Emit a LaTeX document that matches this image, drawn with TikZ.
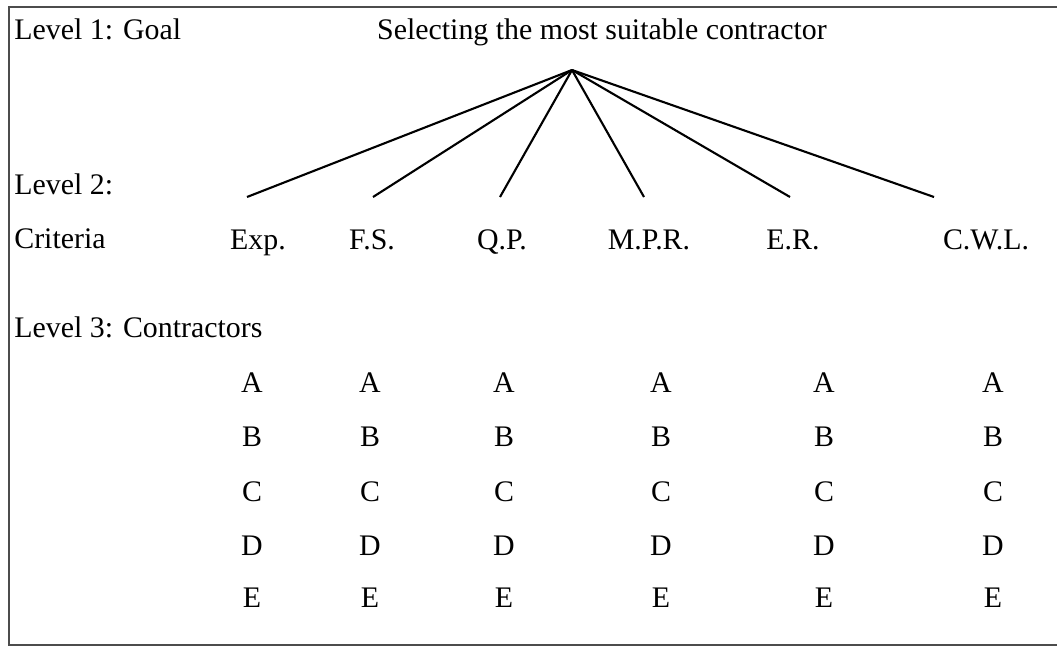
\documentclass[tikz,border=0pt]{standalone}
\usepackage{fontspec}
\setmainfont{Liberation Serif}

\begin{document}
\begin{tikzpicture}[x=0.02cm, y=-0.02cm]
\tikzset{etiq/.style={inner sep=0pt, anchor=base, font=\fontsize{17}{20}\selectfont},
         niveau/.style={etiq, anchor=base west},
         lien/.style={line width=1.2pt}}
\useasboundingbox (0,0) rectangle (1057,646);
\draw[line width=1.1pt, black!70] (1057,7) -- (9,7) -- (9,645) -- (1057,645);
\node[niveau] (L1) at (14,39) {Level 1: Goal};
\node[niveau] (L2) at (14,194) {Level 2:};
\node[niveau] (Cr) at (14,248) {Criteria};
\node[niveau] (L3) at (14,337) {Level 3: Contractors};
\node[etiq] (But) at (602,39) {Selecting the most suitable contractor};
\coordinate (S) at (572,70);
\node[etiq] (C1) at (258,249) {Exp.};
\node[etiq] (C2) at (372,249) {F.S.};
\node[etiq] (C3) at (502,249) {Q.P.};
\node[etiq] (C4) at (649,249) {M.P.R.};
\node[etiq] (C5) at (793,249) {E.R.};
\node[etiq] (C6) at (986,249) {C.W.L.};
\coordinate (T1) at (247,197);
\coordinate (T2) at (373,197);
\coordinate (T3) at (500,197);
\coordinate (T4) at (644,197);
\coordinate (T5) at (790,197);
\coordinate (T6) at (934,197);
\draw[lien] (S) -- (T1);
\draw[lien] (S) -- (T2);
\draw[lien] (S) -- (T3);
\draw[lien] (S) -- (T4);
\draw[lien] (S) -- (T5);
\draw[lien] (S) -- (T6);
\foreach \c/\x in {1/252, 2/370, 3/504, 4/661, 5/824, 6/993}
  \foreach \r/\l/\y in {1/A/392, 2/B/446, 3/C/501, 4/D/555, 5/E/607}
    \node[etiq] (K\c\r) at (\x,\y) {\l};
\end{tikzpicture}
\end{document}
